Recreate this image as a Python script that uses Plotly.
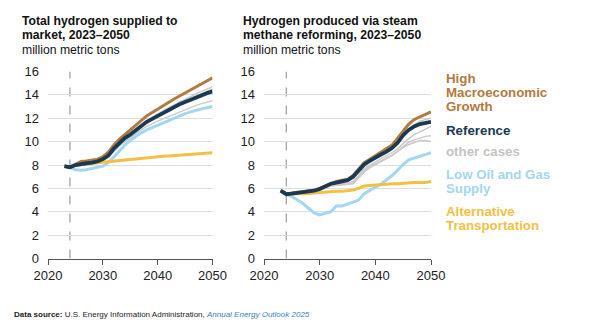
import plotly.graph_objects as go

# ---- data (million metric tons) ----
years = list(range(2023, 2051))

# Total hydrogen supplied to market
total_reference = [7.9, 7.8, 8.0, 8.1, 8.15, 8.2, 8.3, 8.5, 8.8, 9.4, 9.9, 10.3, 10.6, 11.0,
                   11.35, 11.7, 11.95, 12.2, 12.5, 12.75, 12.95, 13.2, 13.4, 13.6, 13.8, 13.95,
                   14.15, 14.3]
total_high_macro = [7.9, 7.8, 8.05, 8.3, 8.35, 8.4, 8.5, 8.7, 9.1, 9.7, 10.2, 10.6, 11.0, 11.45,
                    11.85, 12.2, 12.5, 12.8, 13.1, 13.4, 13.65, 13.9, 14.15, 14.45, 14.7, 14.95,
                    15.2, 15.45]
total_low_oil_gas = [7.9, 7.8, 7.6, 7.55, 7.6, 7.7, 7.8, 7.9, 8.2, 8.7, 9.25, 9.7, 10.1, 10.45,
                     10.75, 11.0, 11.2, 11.4, 11.65, 11.85, 12.05, 12.25, 12.4, 12.55, 12.7, 12.8,
                     12.9, 13.0]
total_alt_transport = [7.9, 7.8, 8.0, 8.05, 8.1, 8.1, 8.15, 8.2, 8.25, 8.3, 8.35, 8.4, 8.45, 8.5,
                       8.55, 8.6, 8.65, 8.7, 8.75, 8.78, 8.82, 8.85, 8.88, 8.9, 8.93, 8.96, 9.0,
                       9.05]
total_other_cases = [
    [7.9, 7.8, 8.0, 8.1, 8.15, 8.2, 8.3, 8.5, 8.8, 9.35, 9.85, 10.3, 10.7, 11.05, 11.4, 11.75,
     12.05, 12.35, 12.65, 12.9, 13.15, 13.4, 13.65, 13.85, 14.1, 14.3, 14.5, 14.7],
    [7.9, 7.8, 7.95, 8.05, 8.1, 8.15, 8.25, 8.45, 8.75, 9.3, 9.8, 10.2, 10.6, 10.95, 11.3, 11.6,
     11.9, 12.15, 12.4, 12.65, 12.9, 13.15, 13.4, 13.65, 13.85, 14.05, 14.3, 14.5],
    [7.9, 7.8, 7.9, 8.0, 8.05, 8.1, 8.2, 8.35, 8.65, 9.15, 9.6, 10.0, 10.35, 10.7, 11.0, 11.3,
     11.55, 11.75, 11.95, 12.15, 12.35, 12.55, 12.75, 12.9, 13.1, 13.25, 13.4, 13.5],
]

# Hydrogen produced via steam methane reforming
smr_reference = [5.8, 5.5, 5.55, 5.6, 5.65, 5.7, 5.8, 5.95, 6.15, 6.4, 6.5, 6.6, 6.7, 7.0, 7.5,
                 8.05, 8.35, 8.65, 8.9, 9.15, 9.45, 9.9, 10.55, 11.0, 11.3, 11.5, 11.6, 11.7]
smr_high_macro = [5.8, 5.5, 5.6, 5.65, 5.7, 5.75, 5.85, 6.0, 6.2, 6.45, 6.6, 6.7, 6.75, 7.1, 7.7,
                  8.2, 8.5, 8.8, 9.05, 9.35, 9.7, 10.3, 10.9, 11.5, 11.9, 12.1, 12.35, 12.55]
smr_low_oil_gas = [5.8, 5.5, 5.3, 5.0, 4.7, 4.3, 3.9, 3.73, 3.87, 4.0, 4.5, 4.5, 4.65, 4.8, 5.0,
                   5.55, 5.85, 6.1, 6.35, 6.7, 7.1, 7.55, 8.05, 8.45, 8.6, 8.75, 8.95, 9.05]
smr_alt_transport = [5.8, 5.5, 5.55, 5.55, 5.5, 5.55, 5.6, 5.65, 5.7, 5.75, 5.75, 5.75, 5.8,
                     5.85, 6.0, 6.2, 6.25, 6.3, 6.3, 6.35, 6.4, 6.4, 6.45, 6.5, 6.5, 6.5, 6.5, 6.6]
smr_other_cases = [
    [5.8, 5.5, 5.55, 5.6, 5.65, 5.7, 5.8, 5.95, 6.15, 6.35, 6.45, 6.55, 6.6, 6.9, 7.5, 7.95,
     8.3, 8.6, 8.85, 9.1, 9.4, 9.85, 10.45, 11.0, 11.45, 11.75, 11.9, 12.0],
    [5.8, 5.5, 5.5, 5.55, 5.6, 5.65, 5.75, 5.9, 6.1, 6.3, 6.4, 6.45, 6.45, 6.6, 7.1, 7.7, 8.0,
     8.3, 8.55, 8.8, 9.05, 9.4, 9.85, 10.25, 10.6, 10.85, 11.1, 11.3],
    [5.8, 5.5, 5.5, 5.5, 5.55, 5.6, 5.7, 5.85, 6.05, 6.25, 6.3, 6.35, 6.35, 6.5, 7.0, 7.55,
     7.85, 8.1, 8.35, 8.6, 8.85, 9.2, 9.6, 9.95, 10.15, 10.3, 10.45, 10.5],
    [5.8, 5.5, 5.5, 5.5, 5.55, 5.6, 5.7, 5.8, 6.0, 6.2, 6.25, 6.3, 6.3, 6.4, 6.9, 7.4, 7.75,
     8.0, 8.25, 8.5, 8.8, 9.15, 9.5, 9.75, 9.95, 10.1, 10.1, 10.0],
]

projection_start = 2024
x_ticks = [2020, 2030, 2040, 2050]
y_ticks = [0, 2, 4, 6, 8, 10, 12, 14, 16]

legend_items = [
    ("High<br>Macroeconomic<br>Growth", "#B27A40"),
    ("Reference", "#1B3A52"),
    ("other cases", "#C4C4C4"),
    ("Low Oil and Gas<br>Supply", "#A3D6F2"),
    ("Alternative<br>Transportation", "#F2C144"),
]

# ---- styling ----
C_HIGH = "#B27A40"
C_REF = "#1B3A52"
C_OTHER = "#CACACA"
C_LOW = "#A3D6F2"
C_ALT = "#F2C144"
FONT = "Liberation Sans, Arial, sans-serif"
W, H = 600, 333


def px_x(x):
    """pixel column -> paper x"""
    return x / W


def px_y(y):
    """pixel row from top -> paper y"""
    return 1 - y / H


fig = go.Figure()


def add_panel(xa, ya, other, low, alt, high, ref):
    for s in other:
        fig.add_trace(go.Scatter(x=years, y=s, mode="lines", xaxis=xa, yaxis=ya,
                                 line=dict(color=C_OTHER, width=1.5), hoverinfo="skip"))
    for s, c, w in [(low, C_LOW, 3), (alt, C_ALT, 3), (high, C_HIGH, 3), (ref, C_REF, 3.8)]:
        fig.add_trace(go.Scatter(x=years, y=s, mode="lines", xaxis=xa, yaxis=ya,
                                 line=dict(color=c, width=w), hoverinfo="skip"))


add_panel("x", "y", total_other_cases, total_low_oil_gas, total_alt_transport,
          total_high_macro, total_reference)
add_panel("x2", "y2", smr_other_cases, smr_low_oil_gas, smr_alt_transport,
          smr_high_macro, smr_reference)

y_dom = [px_y(258.5), px_y(71.5)]
xaxis_style = dict(range=[2020, 2050], tickvals=x_ticks, showgrid=False, zeroline=False,
                   showline=True, linecolor="#555555", linewidth=1, ticks="outside",
                   ticklen=5, tickcolor="#555555", tickfont=dict(size=13, color="#222222"),
                   automargin=False, fixedrange=True)
yaxis_style = dict(range=[0, 16], tickvals=y_ticks, showgrid=True, gridcolor="#DDDDDD",
                   gridwidth=1, zeroline=False, showline=False, ticks="",
                   ticklabelstandoff=8, tickfont=dict(size=13, color="#222222"),
                   automargin=False, fixedrange=True)

fig.update_layout(
    width=W, height=H,
    margin=dict(l=0, r=0, t=0, b=0),
    paper_bgcolor="white", plot_bgcolor="white",
    showlegend=False,
    font=dict(family=FONT, color="#222222"),
    xaxis=dict(domain=[px_x(48), px_x(212.5)], anchor="y", **xaxis_style),
    yaxis=dict(domain=y_dom, anchor="x", **yaxis_style),
    xaxis2=dict(domain=[px_x(264), px_x(431)], anchor="y2", **xaxis_style),
    yaxis2=dict(domain=y_dom, anchor="x2", **yaxis_style),
)

# projection-start markers
for xr, yr in [("x", "y"), ("x2", "y2")]:
    fig.add_shape(type="line", xref=xr, yref=yr, x0=projection_start, x1=projection_start,
                  y0=0, y1=16, line=dict(color="#9A9A9A", width=1.2, dash="dash"), layer="below")

annotations = []


def text(x_px, y_px, s, size=12.7, color="#111111", xanchor="left"):
    annotations.append(dict(x=px_x(x_px), y=px_y(y_px), xref="paper", yref="paper", text=s,
                            showarrow=False, xanchor=xanchor, yanchor="middle",
                            font=dict(size=size, color=color, family=FONT)))


# panel titles
TS = 12.2
text(20, 21, "<b>Total hydrogen supplied to</b>", TS)
text(20, 35, "<b>market, 2023–2050</b>", TS)
text(20, 50, "million metric tons", TS)
text(241, 21, "<b>Hydrogen produced via steam</b>", TS)
text(241, 35, "<b>methane reforming, 2023–2050</b>", TS)
text(241, 50, "million metric tons", TS)

# legend labels
legend_rows = [78, 130, 152, 174, 211]
for (label, color), row in zip(legend_items, legend_rows):
    for i, part in enumerate(label.split("<br>")):
        text(444, row + i * 14.5, f"<b>{part}</b>", 13.3, color)

# source note
text(12, 314, "<b>Data source:</b> U.S. Energy Information Administration, "
     "<i><span style='color:#3B7DC4'>Annual Energy Outlook 2025</span></i>",
     8, "#222222")

fig.update_layout(annotations=annotations)

fig.write_html("out.html", config={"displayModeBar": False})
